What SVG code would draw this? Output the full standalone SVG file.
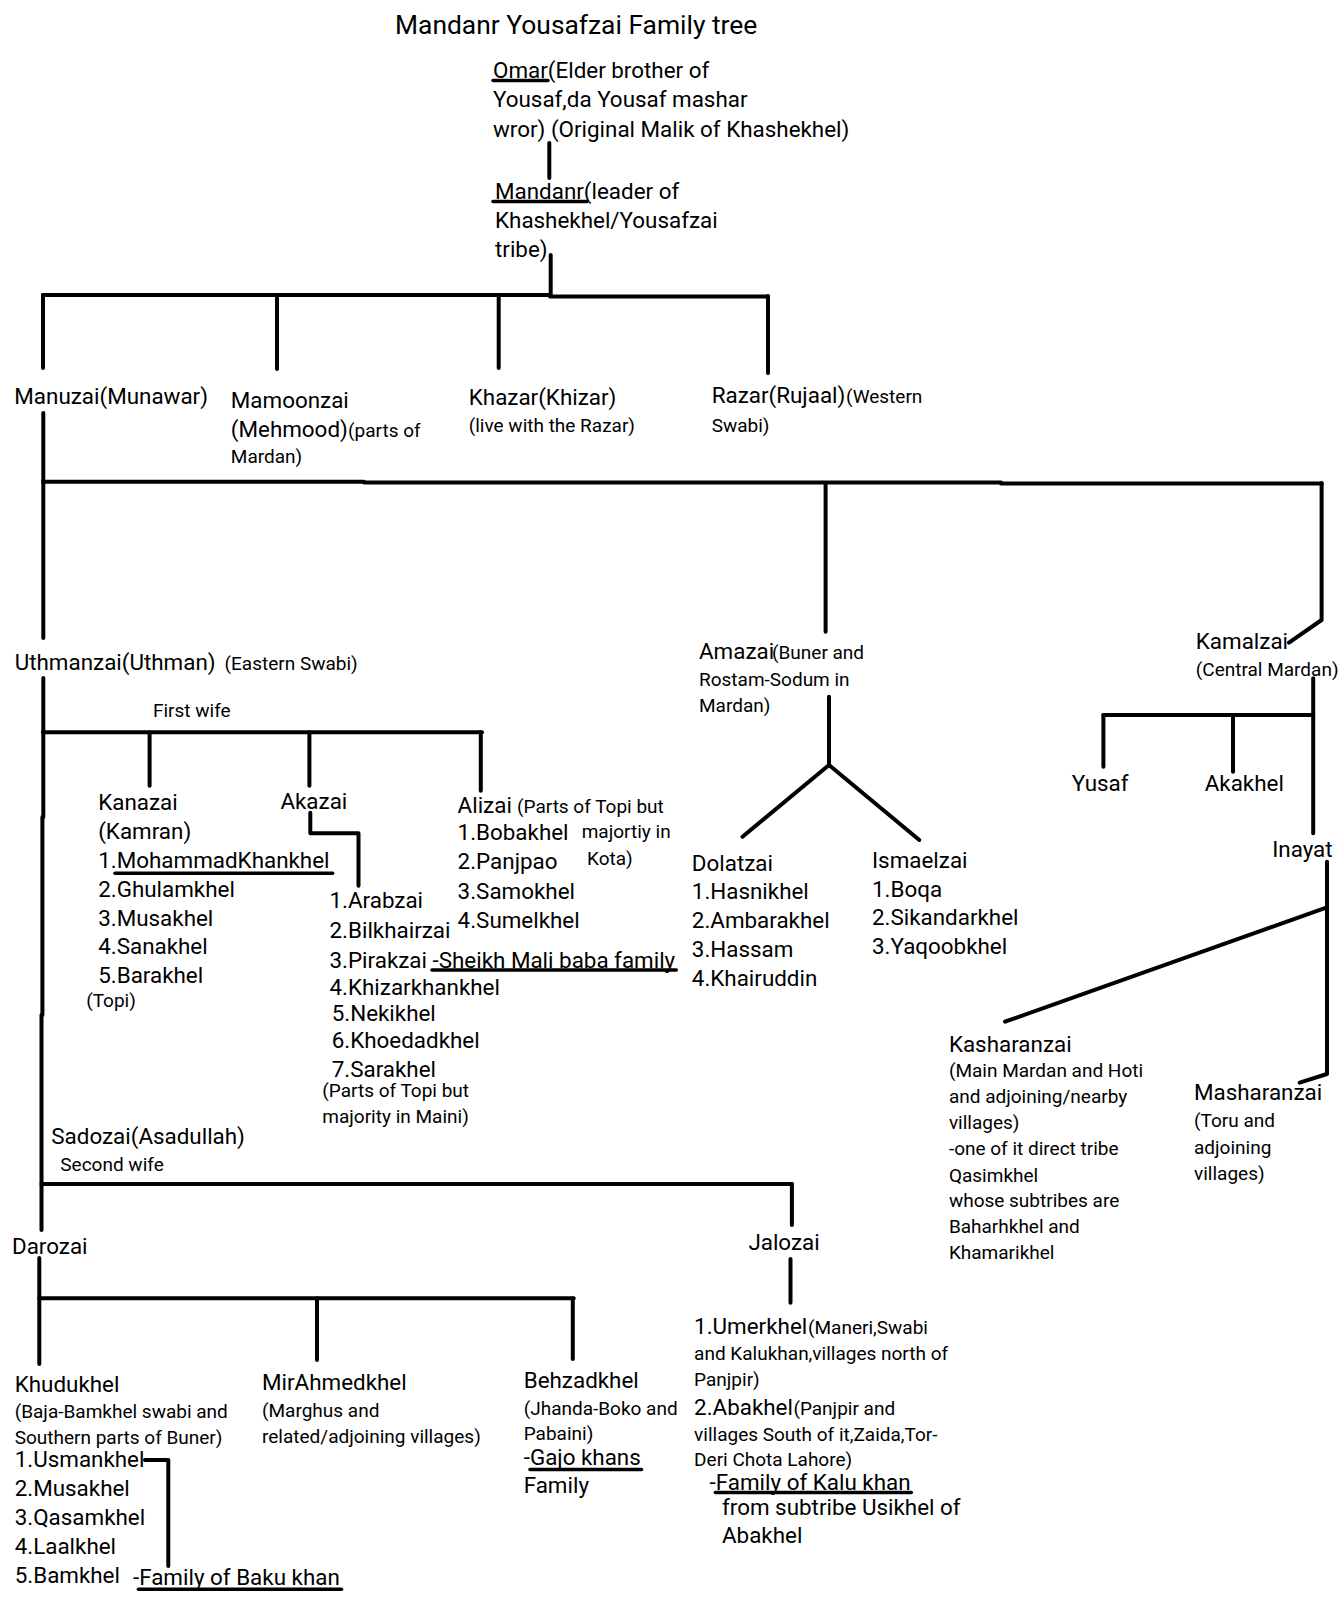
<svg xmlns="http://www.w3.org/2000/svg" width="1342" height="1614" viewBox="0 0 1342 1614">
<style>
text{font-family:Roboto,"Liberation Sans",sans-serif;font-size:22.4px;fill:#000}
.s{font-size:19px}
.title{font-size:26.4px}
.ln{stroke:#000;stroke-width:4;fill:none;stroke-linecap:round;stroke-linejoin:round}
.ul{stroke:#000;stroke-width:3.5;stroke-linecap:round}
</style>
<rect width="1342" height="1614" fill="#fff"/>
<g id="title"><text class="title" x="395" y="34">Mandanr Yousafzai Family tree</text></g>

<g id="connectors">
<line class="ln" x1="549.3" y1="143" x2="549.3" y2="178"/>
<line class="ln" x1="550.7" y1="255" x2="550.7" y2="295"/>
<polyline class="ln" points="43,295 550,295"/>
<polyline class="ln" points="550,296.5 768,296.5"/>
<line class="ln" x1="43" y1="295" x2="43" y2="368"/>
<line class="ln" x1="277" y1="295" x2="277" y2="369"/>
<line class="ln" x1="498.7" y1="295" x2="498.7" y2="368"/>
<line class="ln" x1="768" y1="296" x2="768" y2="373"/>
<line class="ln" x1="43.3" y1="413" x2="43.3" y2="638"/>
<line class="ln" x1="43" y1="481.7" x2="364" y2="481.7"/>
<line class="ln" x1="364" y1="482.6" x2="1001" y2="482.6"/>
<line class="ln" x1="1001" y1="483.5" x2="1321.6" y2="483.5"/>
<line class="ln" x1="825.6" y1="483" x2="825.6" y2="631.7"/>
<polyline class="ln" points="1321.6,483 1321.6,620 1289,642.7"/>
<line class="ln" x1="43.3" y1="678" x2="43.3" y2="817"/>
<line class="ln" x1="42.4" y1="817" x2="42.4" y2="1015"/>
<line class="ln" x1="41.5" y1="1015" x2="41.5" y2="1230"/>
<line class="ln" x1="43" y1="732.3" x2="482" y2="732.3"/>
<line class="ln" x1="149.6" y1="732.3" x2="149.6" y2="785.7"/>
<line class="ln" x1="309.4" y1="732.3" x2="309.4" y2="785.7"/>
<line class="ln" x1="480.8" y1="732.3" x2="480.8" y2="790.7"/>
<polyline class="ln" points="310.3,812.7 310.3,833.3 358.5,833.3 358.5,885.7"/>
<line class="ln" x1="829" y1="696.7" x2="829" y2="765"/>
<line class="ln" x1="829" y1="765" x2="742.5" y2="836.7"/>
<line class="ln" x1="829" y1="765" x2="919.3" y2="840"/>
<line class="ln" x1="1313.2" y1="678.3" x2="1313.2" y2="833.3"/>
<line class="ln" x1="1103.4" y1="715" x2="1313.2" y2="715"/>
<line class="ln" x1="1103.4" y1="715" x2="1103.4" y2="766.7"/>
<line class="ln" x1="1233" y1="715" x2="1233" y2="771.7"/>
<polyline class="ln" points="1327,861.7 1327,1074 1299.7,1082.7"/>
<line class="ln" x1="1327" y1="907.3" x2="1005" y2="1021.7"/>
<line class="ln" x1="41.5" y1="1184" x2="791.9" y2="1184"/>
<line class="ln" x1="791.9" y1="1184" x2="791.9" y2="1225"/>
<line class="ln" x1="39.3" y1="1258" x2="39.3" y2="1364"/>
<line class="ln" x1="39.3" y1="1298.3" x2="573.7" y2="1298.3"/>
<line class="ln" x1="317" y1="1298.3" x2="317" y2="1360"/>
<line class="ln" x1="572.8" y1="1298.3" x2="572.8" y2="1359"/>
<line class="ln" x1="790.5" y1="1259" x2="790.5" y2="1302.7"/>
<polyline class="ln" points="145,1460 168.3,1460 168.3,1566"/>
</g>

<g id="omar">
<text x="493" y="78.3">Omar(Elder brother of</text>
<text x="493" y="107.3">Yousaf,da Yousaf mashar</text>
<text x="493" y="136.7">wror) (Original Malik of Khashekhel)</text>
<line class="ul" x1="493" y1="80.5" x2="548" y2="80.5"/>
</g>
<g id="mandanr">
<text x="495" y="199.3">Mandanr(leader of</text>
<text x="495" y="227.7">Khashekhel/Yousafzai</text>
<text x="495" y="256.7">tribe)</text>
<line class="ul" x1="493" y1="201.5" x2="587" y2="201.5"/>
</g>
<g id="manuzai"><text x="14.3" y="404">Manuzai(Munawar)</text></g>
<g id="mamoonzai">
<text x="230.8" y="407.7">Mamoonzai</text>
<text x="230.8" y="436.7">(Mehmood)<tspan class="s" x="348">(parts of</tspan></text>
<text class="s" x="230.8" y="462.7">Mardan)</text>
</g>
<g id="khazar">
<text x="468.75" y="405">Khazar(Khizar)</text>
<text class="s" x="468.75" y="431.7">(live with the Razar)</text>
</g>
<g id="razar">
<text x="711.7" y="402.7">Razar(Rujaal)<tspan class="s" x="846">(Western</tspan></text>
<text class="s" x="711.7" y="431.7">Swabi)</text>
</g>
<g id="uthmanzai">
<text x="14.7" y="670">Uthmanzai(Uthman)<tspan class="s" x="224.5">(Eastern Swabi)</tspan></text>
<text class="s" x="153" y="716.7">First wife</text>
</g>
<g id="kanazai">
<text x="98.2" y="810">Kanazai</text>
<text x="98.2" y="839">(Kamran)</text>
<text x="98.2" y="868.3">1.MohammadKhankhel</text>
<text x="98.2" y="896.7">2.Ghulamkhel</text>
<text x="98.2" y="925.7">3.Musakhel</text>
<text x="98.2" y="954.3">4.Sanakhel</text>
<text x="98.2" y="983.3">5.Barakhel</text>
<text class="s" x="86.2" y="1006.7">(Topi)</text>
<line class="ul" x1="115" y1="873.3" x2="332.6" y2="873.3"/>
</g>
<g id="akazai">
<text x="280.4" y="809">Akazai</text>
<text x="329.5" y="908.3">1.Arabzai</text>
<text x="329.5" y="938.3">2.Bilkhairzai</text>
<text x="329.5" y="967.7">3.Pirakzai -Sheikh Mali baba family</text>
<text x="329.5" y="995">4.Khizarkhankhel</text>
<text x="331.7" y="1020.5">5.Nekikhel</text>
<text x="331.7" y="1048">6.Khoedadkhel</text>
<text x="331.7" y="1076.7">7.Sarakhel</text>
<text class="s" x="322.3" y="1097.3">(Parts of Topi but</text>
<text class="s" x="322.3" y="1122.7">majority in Maini)</text>
<line class="ul" x1="432" y1="970" x2="676.3" y2="970"/>
</g>
<g id="alizai">
<text x="457.6" y="812.7">Alizai<tspan class="s" x="517">(Parts of Topi but</tspan></text>
<text x="457.6" y="840">1.Bobakhel</text>
<text class="s" x="581.7" y="838.3">majortiy in</text>
<text x="457.6" y="869.3">2.Panjpao</text>
<text class="s" x="587" y="865">Kota)</text>
<text x="457.6" y="899.3">3.Samokhel</text>
<text x="457.6" y="928.3">4.Sumelkhel</text>
</g>
<g id="amazai">
<text x="699" y="659.3">Amazai<tspan class="s" x="772">(Buner and</tspan></text>
<text class="s" x="699" y="686">Rostam-Sodum in</text>
<text class="s" x="699" y="711.7">Mardan)</text>
</g>
<g id="dolatzai">
<text x="691.8" y="870.7">Dolatzai</text>
<text x="691.8" y="899.3">1.Hasnikhel</text>
<text x="691.8" y="928.3">2.Ambarakhel</text>
<text x="691.8" y="957.3">3.Hassam</text>
<text x="691.8" y="986">4.Khairuddin</text>
</g>
<g id="ismaelzai">
<text x="872" y="867.7">Ismaelzai</text>
<text x="872" y="896.7">1.Boqa</text>
<text x="872" y="925">2.Sikandarkhel</text>
<text x="872" y="954.3">3.Yaqoobkhel</text>
</g>
<g id="kamalzai">
<text x="1195.8" y="649.3">Kamalzai</text>
<text class="s" x="1195.8" y="676">(Central Mardan)</text>
</g>
<g id="yusaf"><text x="1071.7" y="790.7">Yusaf</text></g>
<g id="akakhel"><text x="1204.7" y="790.7">Akakhel</text></g>
<g id="inayat"><text x="1272.2" y="857.3">Inayat</text></g>
<g id="kasharanzai">
<text x="948.9" y="1051.7">Kasharanzai</text>
<text class="s" x="948.9" y="1077.3">(Main Mardan and Hoti</text>
<text class="s" x="948.9" y="1103.3">and adjoining/nearby</text>
<text class="s" x="948.9" y="1129.3">villages)</text>
<text class="s" x="948.9" y="1155">-one of it direct tribe</text>
<text class="s" x="948.9" y="1181.7">Qasimkhel</text>
<text class="s" x="948.9" y="1207.3">whose subtribes are</text>
<text class="s" x="948.9" y="1233.3">Baharhkhel and</text>
<text class="s" x="948.9" y="1259.3">Khamarikhel</text>
</g>
<g id="masharanzai">
<text x="1194" y="1100">Masharanzai</text>
<text class="s" x="1194" y="1127.3">(Toru and</text>
<text class="s" x="1194" y="1154">adjoining</text>
<text class="s" x="1194" y="1180">villages)</text>
</g>
<g id="sadozai">
<text x="51.3" y="1144">Sadozai(Asadullah)</text>
<text class="s" x="60.3" y="1171">Second wife</text>
</g>
<g id="darozai"><text x="12" y="1254">Darozai</text></g>
<g id="jalozai"><text x="748.4" y="1250">Jalozai</text></g>
<g id="khudukhel">
<text x="14.7" y="1391.7">Khudukhel</text>
<text class="s" x="14.7" y="1418.3">(Baja-Bamkhel swabi and</text>
<text class="s" x="14.7" y="1444">Southern parts of Buner)</text>
<text x="14.7" y="1467">1.Usmankhel</text>
<text x="14.7" y="1496">2.Musakhel</text>
<text x="14.7" y="1525">3.Qasamkhel</text>
<text x="14.7" y="1554">4.Laalkhel</text>
<text x="14.7" y="1582.7">5.Bamkhel</text>
<text x="133" y="1585">-Family of Baku khan</text>
<line class="ul" x1="138.4" y1="1589.3" x2="341.5" y2="1589.3"/>
</g>
<g id="mirahmedkhel">
<text x="262" y="1390">MirAhmedkhel</text>
<text class="s" x="262" y="1416.7">(Marghus and</text>
<text class="s" x="262" y="1442.7">related/adjoining villages)</text>
</g>
<g id="behzadkhel">
<text x="523.7" y="1388.3">Behzadkhel</text>
<text class="s" x="523.7" y="1414.5">(Jhanda-Boko and</text>
<text class="s" x="523.7" y="1439.5">Pabaini)</text>
<text x="523.7" y="1464.5">-Gajo khans</text>
<text x="523.7" y="1493">Family</text>
<line class="ul" x1="530" y1="1469.5" x2="641.5" y2="1469.5"/>
</g>
<g id="jalozai-subtribes">
<text x="694.1" y="1334">1.Umerkhel<tspan class="s" x="808">(Maneri,Swabi</tspan></text>
<text class="s" x="694.1" y="1360">and Kalukhan,villages north of</text>
<text class="s" x="694.1" y="1386">Panjpir)</text>
<text x="694.1" y="1415">2.Abakhel<tspan class="s" x="793.4">(Panjpir and</tspan></text>
<text class="s" x="694.1" y="1441">villages South of it,Zaida,Tor-</text>
<text class="s" x="694.1" y="1465.5">Deri Chota Lahore)</text>
<text x="709.6" y="1489.5">-Family of Kalu khan</text>
<text x="722" y="1515">from subtribe Usikhel of</text>
<text x="722" y="1543">Abakhel</text>
<line class="ul" x1="715.3" y1="1492.5" x2="911.3" y2="1492.5"/>
</g>
</svg>
